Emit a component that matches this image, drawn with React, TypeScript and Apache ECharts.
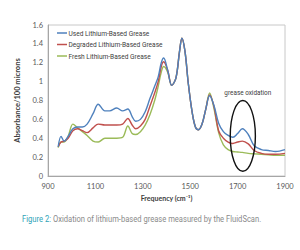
import React, { useEffect, useRef } from "react";
import * as echarts from "echarts";

const freqs = [943, 955, 968, 985, 1005, 1025, 1045, 1065, 1090, 1112, 1140, 1160, 1190, 1215, 1237, 1255, 1270, 1290, 1310, 1330, 1350, 1365, 1378, 1388, 1405, 1422, 1440, 1455, 1465, 1478, 1492, 1508, 1522, 1535, 1550, 1565, 1582, 1600, 1620, 1640, 1660, 1680, 1700, 1720, 1745, 1770, 1800, 1830, 1860, 1900];

const usedGrease = [0.31, 0.42, 0.37, 0.42, 0.50, 0.52, 0.52, 0.55, 0.66, 0.76, 0.69, 0.69, 0.72, 0.69, 0.71, 0.63, 0.58, 0.60, 0.68, 0.82, 0.95, 1.05, 1.20, 1.25, 1.12, 0.96, 1.04, 1.32, 1.46, 1.32, 0.98, 0.68, 0.52, 0.49, 0.55, 0.70, 0.85, 0.75, 0.56, 0.47, 0.43, 0.41, 0.45, 0.50, 0.44, 0.32, 0.28, 0.27, 0.26, 0.28];

const degradedGrease = [0.31, 0.36, 0.37, 0.40, 0.48, 0.50, 0.48, 0.46, 0.51, 0.55, 0.54, 0.54, 0.54, 0.55, 0.61, 0.54, 0.50, 0.53, 0.60, 0.74, 0.88, 1.00, 1.16, 1.21, 1.12, 0.96, 1.04, 1.32, 1.46, 1.32, 0.98, 0.68, 0.52, 0.49, 0.55, 0.70, 0.86, 0.74, 0.48, 0.40, 0.36, 0.345, 0.36, 0.37, 0.34, 0.27, 0.24, 0.23, 0.23, 0.24];

const freshGrease = [0.30, 0.36, 0.36, 0.42, 0.55, 0.51, 0.47, 0.43, 0.37, 0.36, 0.40, 0.40, 0.40, 0.41, 0.53, 0.45, 0.44, 0.47, 0.54, 0.65, 0.80, 0.95, 1.10, 1.16, 1.10, 0.96, 1.04, 1.32, 1.46, 1.32, 0.98, 0.68, 0.52, 0.49, 0.55, 0.70, 0.88, 0.72, 0.46, 0.33, 0.28, 0.26, 0.255, 0.25, 0.24, 0.235, 0.23, 0.225, 0.22, 0.22];

const seriesNames = ["Used Lithium-Based Grease", "Degraded Lithium-Based Grease", "Fresh Lithium-Based Grease"];
const seriesValues = [usedGrease, degradedGrease, freshGrease];
const seriesColors = ["#4f81bd", "#c0504d", "#9bbb59"];

const annotationText = "grease oxidation";
const annotationCenter = [1722, 0.425];
const captionLead = "Figure 2:";
const captionBody = " Oxidation of lithium-based grease measured by the FluidScan.";

const FONT = "Lato, 'Noto Sans', sans-serif";
const NARROW = "Roboto, sans-serif";

export default function App() {
  const ref = useRef<HTMLDivElement>(null);
  useEffect(() => {
    if (!ref.current) return;
    const chart = echarts.init(ref.current, undefined, { renderer: "svg" });
    const option: any = {
      animation: false,
      backgroundColor: "#ffffff",
      textStyle: { fontFamily: FONT },
      grid: {
        left: 48,
        right: 15,
        top: 25,
        bottom: 74,
        show: true,
        borderColor: "#c8c8c8",
        borderWidth: 1,
        containLabel: false,
      },
      xAxis: {
        type: "value",
        min: 900,
        max: 1900,
        interval: 200,
        name: "Frequency (cm⁻¹)",
        nameLocation: "middle",
        nameGap: 16,
        nameTextStyle: { fontSize: 7, fontWeight: "bold", color: "#404040", fontFamily: FONT },
        axisLine: { lineStyle: { color: "#a6a6a6" } },
        axisTick: { show: false },
        axisLabel: { fontSize: 7.5, color: "#595959", margin: 6, fontFamily: FONT, formatter: (v: number) => String(v) },
        splitLine: { show: false },
      },
      yAxis: {
        type: "value",
        min: 0,
        max: 1.6,
        interval: 0.2,
        name: "Absorbance/100 microns",
        nameLocation: "middle",
        nameGap: 23,
        nameTextStyle: { fontSize: 7.5, fontWeight: "bold", color: "#404040", fontFamily: FONT },
        axisLine: { show: true, lineStyle: { color: "#a6a6a6" } },
        axisTick: { show: false },
        axisLabel: { fontSize: 7.5, color: "#595959", margin: 5, fontFamily: FONT },
        splitLine: { show: false },
      },
      series: seriesNames.map((name, i) => ({
        name,
        type: "line",
        smooth: 0.35,
        showSymbol: false,
        symbol: "none",
        color: seriesColors[i],
        lineStyle: { width: 1.4, color: seriesColors[i] },
        data: freqs.map((f, j) => [f, seriesValues[i][j]]),
        z: 3 - i,
      })),
    };
    chart.setOption(option);

    const c = chart.convertToPixel({ gridIndex: 0 }, annotationCenter) as number[];
    const top = chart.convertToPixel({ gridIndex: 0 }, [annotationCenter[0], 0.8]) as number[];
    const right = chart.convertToPixel({ gridIndex: 0 }, [1775, annotationCenter[1]]) as number[];
    const rx = right[0] - c[0];
    const ry = c[1] - top[1];

    const legendItems: any[] = [];
    seriesNames.forEach((name, i) => {
      const y = 33 + i * 11.5;
      legendItems.push({
        type: "line",
        shape: { x1: 57, y1: y, x2: 67, y2: y },
        style: { stroke: seriesColors[i], lineWidth: 1.5 },
        z: 10,
      });
      legendItems.push({
        type: "text",
        x: 68.5,
        y,
        scaleX: 0.88,
        style: {
          text: name,
          fontSize: 7.5,
          fill: "#404040",
          fontFamily: NARROW,
          verticalAlign: "middle",
        },
        z: 10,
      });
    });

    chart.setOption({
      graphic: [
        ...legendItems,
        {
          type: "ellipse",
          shape: { cx: c[0], cy: c[1], rx, ry },
          style: { fill: "none", stroke: "#111111", lineWidth: 1.4 },
          z: 10,
        },
        {
          type: "text",
          x: c[0] + 5,
          y: top[1] - 8,
          scaleX: 0.85,
          style: {
            text: annotationText,
            fontSize: 7.5,
            fill: "#404040",
            fontFamily: NARROW,
            align: "center",
            verticalAlign: "middle",
          },
          z: 10,
        },
        {
          type: "text",
          x: 22,
          y: 219,
          scaleX: 0.8,
          style: {
            text: "{a|" + captionLead + "}{b|" + captionBody + "}",
            verticalAlign: "middle",
            rich: {
              a: { fontSize: 9.5, fill: "#2ea3b7", color: "#2ea3b7", fontFamily: "Roboto, sans-serif" },
              b: { fontSize: 9.5, fill: "#8a8a8a", color: "#8a8a8a", fontFamily: "Roboto, sans-serif" },
            },
          },
        },
      ],
    });
    return () => chart.dispose();
  }, []);
  return <div ref={ref} style={{ position: "fixed", left: 0, top: 0, width: 300, height: 250 }} />;
}
